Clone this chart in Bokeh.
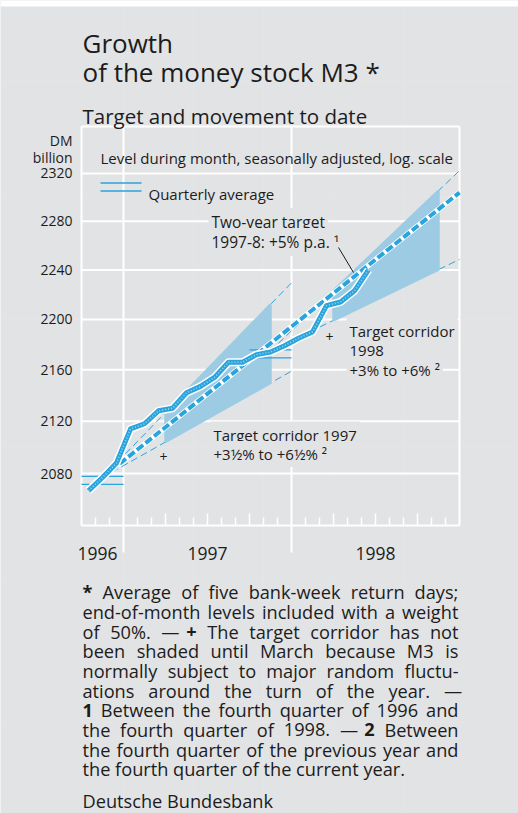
import math
from bokeh.plotting import figure
from bokeh.models import (Range1d, FixedTicker, LinearAxis, LogAxis, Label, Arrow,
                          BasicTickFormatter, ColumnDataSource, BoxAnnotation)
from bokeh.embed import file_html
from bokeh.resources import INLINE

# ---------------- data ----------------
month_labels = ["1996-10", "1996-11", "1996-12",
                "1997-01", "1997-02", "1997-03", "1997-04", "1997-05", "1997-06",
                "1997-07", "1997-08", "1997-09", "1997-10", "1997-11", "1997-12",
                "1998-01", "1998-02", "1998-03", "1998-04", "1998-05", "1998-06"]
m3_level = [2067, 2077, 2088,
            2114, 2118, 2128, 2130, 2142, 2147,
            2154, 2166, 2166, 2172, 2174, 2179,
            2185, 2190, 2211, 2214, 2223, 2240]
quarter_labels = ["1996-Q4", "1997-Q4"]
quarter_avg = [2077, 2175]
corridor_years = [1997, 1998]
corridor_low_pct = [3.5, 3.0]
corridor_high_pct = [6.5, 6.0]
shading_from_month = [4, 4]          # corridor shaded from April on
target_from_year, target_to_year = 1997, 1998
target_pct = 5.0
y_ticks = [2080, 2120, 2160, 2200, 2240, 2280, 2320]
year_labels = ["1996", "1997", "1998"]

# ---------------- layout helpers ----------------
BG = "#e2e3e5"
TXT = "#1c1c1c"
BLUE = "#2aa4dc"
SHADE = "#9dcbe4"
FONT = "Open Sans"
W, H = 518, 813
PPL = 2747.5                 # pixels per unit of ln(value)
PPM = 14.0                   # pixels per month
X0, M0 = 81.0, -3.0          # page x of the plot's left edge, its month
Y0, V0 = 473.0, 2080.0       # page y of the 2080 grid line


def v_at(Y):                 # value at page row Y (log scale)
    return V0 * math.exp((Y0 - Y) / PPL)


def m_at(X):                 # month position at page column X
    return M0 + (X - X0) / PPM


def sx(X):
    return X


def sy(Y):
    return H - Y


def mpos(label):
    y, m = label.split("-")
    return (int(y) - 1997) * 12 + (int(m) - 1) + 0.5


def q4_mid(year):
    return (year - 1997) * 12 + 10.5


def grow(base, m0, pct, m):
    return base * (1 + pct / 100.0) ** ((m - m0) / 12.0)


x_m3 = [mpos(s) for s in month_labels]
axis_level = v_at(525)
top_level = v_at(126)
yearline_low = v_at(552)
x_left, x_right = -3, 24

p = figure(width=W, height=H, output_backend="svg", toolbar_location=None,
           x_range=Range1d(m_at(0), m_at(W)), y_range=Range1d(v_at(H), v_at(0)),
           y_axis_type="log", x_axis_location=None, y_axis_location=None,
           min_border=0, background_fill_color=BG, border_fill_color=BG,
           outline_line_color=None)

# white strip at the very top
p.add_layout(BoxAnnotation(bottom=v_at(6), top=v_at(0), fill_color="white", fill_alpha=1,
                           line_color=None, level="underlay"))

# grid lines and frame (white)
p.segment(x0=[x_left] * len(y_ticks), x1=[x_right] * len(y_ticks), y0=y_ticks, y1=y_ticks,
          line_color="white", line_width=2)
p.segment(x0=[x_left, x_right, x_left], y0=[axis_level, axis_level, top_level],
          x1=[x_left, x_right, x_right], y1=[top_level, top_level, top_level],
          line_color="white", line_width=2)
p.segment(x0=[0, 12], x1=[0, 12], y0=[yearline_low] * 2, y1=[top_level] * 2,
          line_color="white", line_width=2)

# y axis (labels only) fixed at the left edge
ya = LogAxis(ticker=FixedTicker(ticks=y_ticks), formatter=BasicTickFormatter(use_scientific=False),
             fixed_location=x_left, axis_line_color=None,
             major_tick_line_color=None, minor_tick_line_color=None,
             major_tick_in=0, major_tick_out=0, major_label_standoff=9,
             major_label_text_font=FONT, major_label_text_font_size="14px",
             major_label_text_color=TXT)
p.add_layout(ya, "left")

# x axis (month / quarter ticks) fixed at its level
quarters = [m for m in range(-2, 24) if m % 3 == 0 and m % 12 != 0]
months = [m for m in range(-2, 24) if m % 3 != 0]
xa = LinearAxis(ticker=FixedTicker(ticks=quarters, minor_ticks=months),
                fixed_location=axis_level, bounds=(x_left, x_right),
                axis_line_color="white", axis_line_width=2,
                major_tick_line_color="white", major_tick_line_width=1.5,
                major_tick_in=12, major_tick_out=0,
                minor_tick_line_color="white", minor_tick_line_width=1.5,
                minor_tick_in=8, minor_tick_out=0,
                major_label_text_font_size="0px", major_label_text_color=None)
p.add_layout(xa, "below")

# target corridors: thin dashed lines, then shading on top
for i, yr in enumerate(corridor_years):
    base = quarter_avg[i]
    m0 = q4_mid(yr - 1)
    m_end_line = (yr - 1997) * 12 + 12
    m_end_shade = q4_mid(yr)
    m_start_shade = (yr - 1997) * 12 + shading_from_month[i] - 1
    for pct in (corridor_low_pct[i], corridor_high_pct[i]):
        p.line([m0, m_end_line], [base, grow(base, m0, pct, m_end_line)],
               line_color=BLUE, line_width=1, line_dash="7 4")
    lo, hi = corridor_low_pct[i], corridor_high_pct[i]
    xs = [m_start_shade, m_end_shade, m_end_shade, m_start_shade]
    ys = [grow(base, m0, lo, m_start_shade), grow(base, m0, lo, m_end_shade),
          grow(base, m0, hi, m_end_shade), grow(base, m0, hi, m_start_shade)]
    p.patch(xs, ys, fill_color=SHADE, line_color=SHADE, line_width=2.5)

# quarterly averages (double line)
for i, q in enumerate(quarter_labels):
    yr = int(q[:4])
    a = (yr - 1997) * 12 + 9
    b = a + 3
    v = quarter_avg[i]
    for f in (math.exp(1 / PPL), math.exp(-7 / PPL)):
        p.line([a, b], [v * f, v * f], line_color=BLUE, line_width=1.3)

# two-year target +5% p.a.
t0 = q4_mid(target_from_year - 1)
t_end = x_right
tb = quarter_avg[0]
p.line([t0, t_end], [tb, grow(tb, t0, target_pct, t_end)], line_color="white", line_width=5.5)
p.line([t0, t_end], [tb, grow(tb, t0, target_pct, t_end)], line_color=BLUE, line_width=4,
       line_dash="8 3")

# M3 line
src = ColumnDataSource(dict(x=x_m3, y=m3_level))
p.line("x", "y", source=src, line_color="white", line_width=8, line_join="round")
p.line("x", "y", source=src, line_color=BLUE, line_width=5, line_join="round")
p.line("x", "y", source=src, line_color="#9fd6f0", line_width=1.6, line_dash="1 2",
       line_join="round")


# ---------------- texts ----------------
def lab(X, Y, text, size, align="left", bold=False, bg=None, color=TXT, baseline="alphabetic"):
    kw = {}
    if bg:
        kw = dict(background_fill_color=bg, padding=3)
    p.add_layout(Label(x=sx(X), y=sy(Y), x_units="screen", y_units="screen", text=text,
                       text_font=FONT, text_font_size=f"{size}px", text_align=align,
                       text_baseline=baseline, text_color=color,
                       text_font_style="bold" if bold else "normal", **kw))


lab(82, 42, "Growth", 26)
lab(82, 71, "of the money stock M3 *", 26)
lab(82, 115, "Target and movement to date", 20.5)
lab(72, 140, "DM", 14, align="right")
lab(72, 157, "billion", 14, align="right")
lab(100, 157, "Level during month, seasonally adjusted, log. scale", 15)
lab(148, 193, "Quarterly average", 15)
for Yl in (182.5, 190.5):
    p.add_layout(Arrow(x_start=sx(100), y_start=sy(Yl), x_end=sx(141), y_end=sy(Yl),
                       start_units="screen", end_units="screen", end=None,
                       line_color=BLUE, line_width=1.3))
lab(208, 221.5, "Two-year target", 15.5, bg=BG)
lab(208, 241.5, "1997-8: +5% p.a. ¹", 15.5, bg=BG)
p.add_layout(Arrow(x_start=sx(338), y_start=sy(247), x_end=sx(353), y_end=sy(272),
                   start_units="screen", end_units="screen", end=None,
                   line_color=TXT, line_width=1))
lab(346, 330, "Target corridor", 15, bg=BG)
lab(346, 350, "1998", 15, bg=BG)
lab(346, 369.5, "+3% to +6% ²", 15, bg=BG)
lab(210, 434, "Target corridor 1997", 15, bg=BG)
lab(210, 453.5, "+3½% to +6½% ²", 15, bg=BG)
lab(163, 456, "+", 14, align="center", baseline="middle")
lab(329, 336, "+", 14, align="center", baseline="middle")

# year labels under the axis
for xl, t in zip([-1.85, 6, 18], year_labels):
    p.add_layout(Label(x=xl, y=sy(553), x_units="data", y_units="screen", text=t,
                       text_font=FONT, text_font_size="17.5px", text_align="center",
                       text_baseline="alphabetic", text_color=TXT))

# ---------------- footnote, justified word by word ----------------
ADV = {" ": 532, "*": 1130, "+": 1171, ",": 502, "-": 659, ".": 545, ";": 545, "%": 1686,
       "—": 1638, "A": 1298, "B": 1319, "D": 1479, "M": 1864, "T": 1128,
       "a": 1139, "b": 1255, "c": 975, "d": 1255, "e": 1149, "f": 694, "g": 1122,
       "h": 1257, "i": 518, "j": 518, "k": 1075, "l": 518, "m": 1905, "n": 1257,
       "o": 1237, "p": 1255, "q": 1255, "r": 836, "s": 977, "t": 723, "u": 1257,
       "v": 1026, "w": 1593, "x": 1073, "y": 1028, "z": 977}
FS = 18.2


def text_w(s):
    return sum(ADV.get(c, 1171) for c in s) / 2048.0 * FS


foot = ["* Average of five bank-week return days;",
        "end-of-month levels included with a weight",
        "of 50%. — + The target corridor has not",
        "been shaded until March because M3 is",
        "normally subject to major random fluctu-",
        "ations around the turn of the year. —",
        "1 Between the fourth quarter of 1996 and",
        "the fourth quarter of 1998. — 2 Between",
        "the fourth quarter of the previous year and",
        "the fourth quarter of the current year."]
bold_words = {(0, 0), (2, 3), (6, 0), (7, 6)}
LEFT, RIGHT = 82.0, 458.0
for k, line in enumerate(foot):
    Yb = 591.7 + k * 19.67
    words = line.split(" ")
    if k == len(foot) - 1:
        lab(LEFT, Yb, line, FS)
        continue
    widths = [text_w(wd) for wd in words]
    gap = (RIGHT - LEFT - sum(widths)) / (len(words) - 1)
    xcur = LEFT
    for j, wd in enumerate(words):
        lab(xcur, Yb, wd, FS, bold=(k, j) in bold_words)
        xcur += widths[j] + gap
lab(82, 800, "Deutsche Bundesbank", FS)

open("out.html", "w").write(file_html(p, INLINE))
